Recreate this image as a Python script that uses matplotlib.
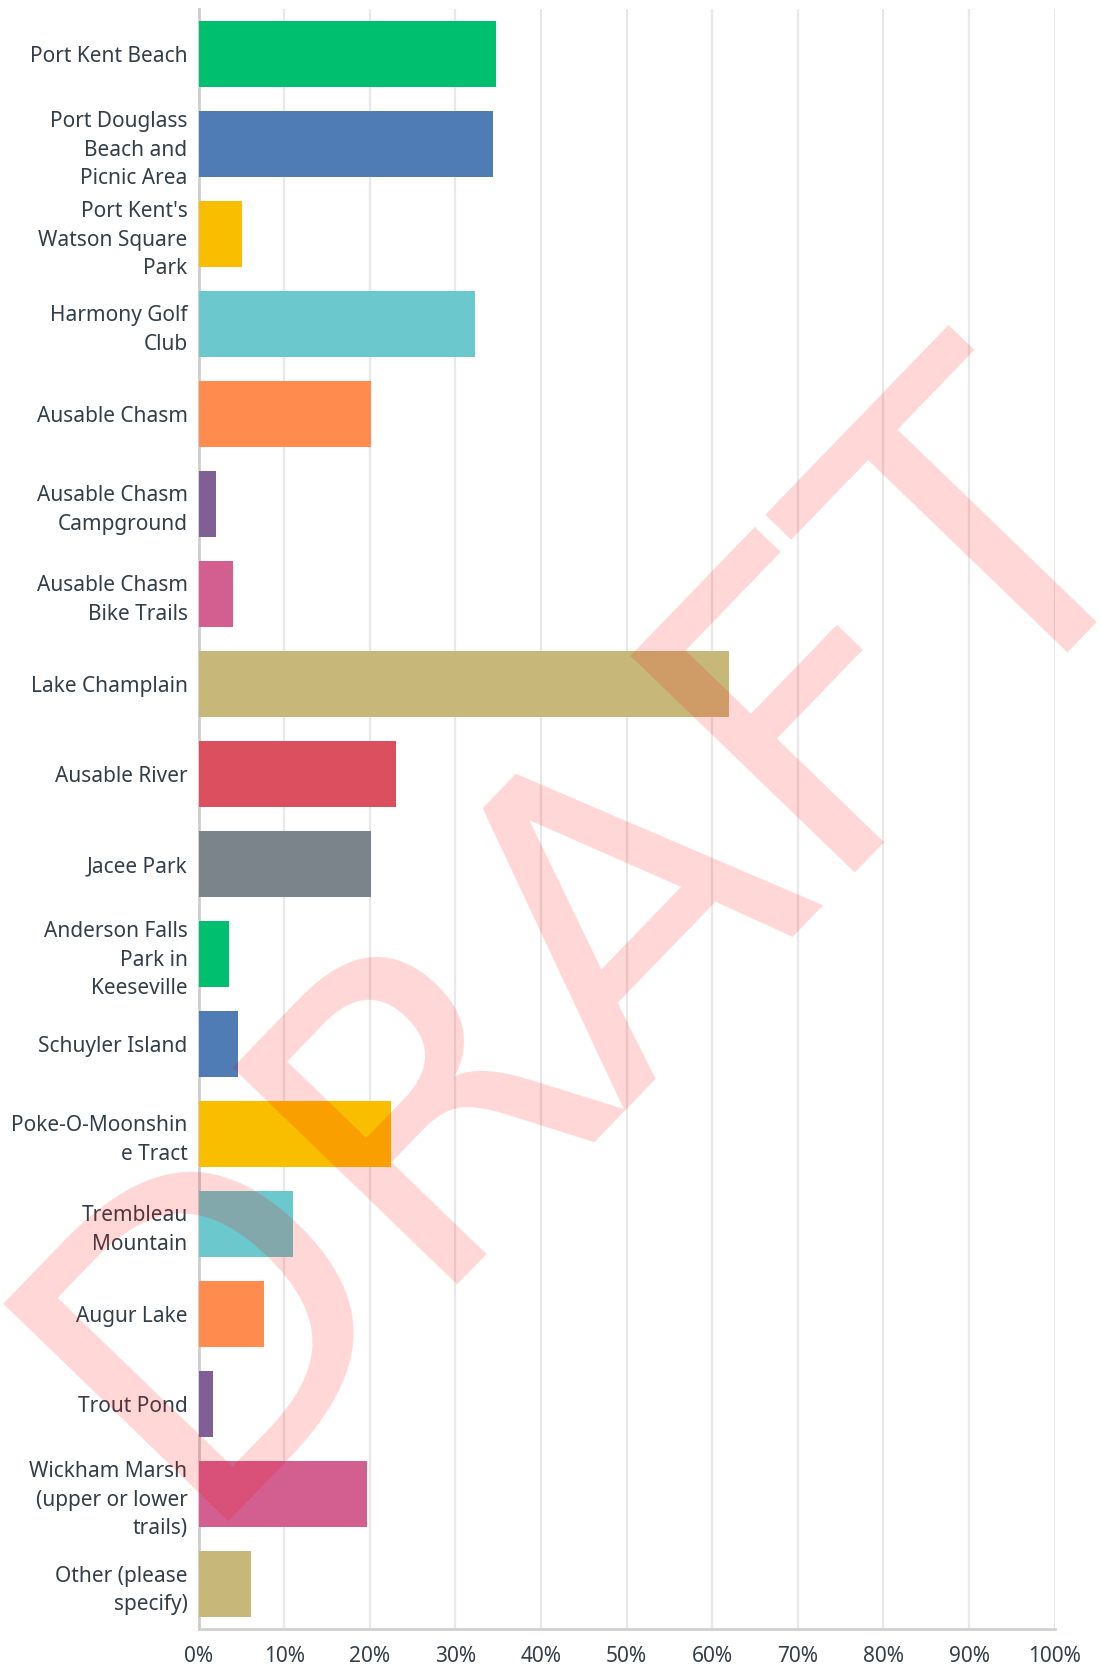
import matplotlib
matplotlib.use("Agg")
import matplotlib.pyplot as plt
from matplotlib.ticker import FuncFormatter

# answer choices and share of respondents (%)
labels = [
    "Port Kent Beach",
    "Port Douglass\nBeach and\nPicnic Area",
    "Port Kent's\nWatson Square\nPark",
    "Harmony Golf\nClub",
    "Ausable Chasm",
    "Ausable Chasm\nCampground",
    "Ausable Chasm\nBike Trails",
    "Lake Champlain",
    "Ausable River",
    "Jacee Park",
    "Anderson Falls\nPark in\nKeeseville",
    "Schuyler Island",
    "Poke-O-Moonshin\ne Tract",
    "Trembleau\nMountain",
    "Augur Lake",
    "Trout Pond",
    "Wickham Marsh\n(upper or lower\ntrails)",
    "Other (please\nspecify)",
]
values = [34.7, 34.4, 5.1, 32.3, 20.1, 2.0, 4.0, 62.0, 23.0, 20.1,
          3.5, 4.6, 22.5, 11.0, 7.6, 1.7, 19.7, 6.1]

palette = ["#00bf6f", "#507cb6", "#f9be00", "#6bc8cd", "#ff8b4f",
           "#7f5f96", "#d25f90", "#c7b879", "#dc4f5e", "#7b838b"]
colors = [palette[i % len(palette)] for i in range(len(values))]

TEXT = "#333e48"
plt.rcParams["font.family"] = ["Noto Sans", "DejaVu Sans"]

fig = plt.figure(figsize=(11.02, 16.72), dpi=100)
ax = fig.add_axes([0.1803, 0.0257, 0.7767, 0.969])

y = range(len(values))
ax.barh(y, values, height=0.733, color=colors, zorder=3)
ax.set_ylim(len(values) - 0.5, -0.5)
ax.set_xlim(0, 100)

ax.set_yticks(list(y))
ax.set_yticklabels(labels, fontsize=15, color=TEXT, linespacing=1.46)
ax.set_xticks(range(0, 101, 10))
ax.xaxis.set_major_formatter(FuncFormatter(lambda v, _: f"{v:.0f}%"))
ax.tick_params(axis="x", labelsize=15, labelcolor=TEXT, length=0, pad=12)
ax.tick_params(axis="y", length=0, pad=8)

ax.grid(axis="x", color="#e8e8e8", linewidth=1.6, zorder=0)
for side in ("top", "right"):
    ax.spines[side].set_visible(False)
ax.spines["left"].set_color("#cccccc")
ax.spines["left"].set_linewidth(2)
ax.spines["bottom"].set_color("#d0d0d0")
ax.spines["bottom"].set_linewidth(2)

# watermark
fig.text(0.534, 0.441, "DRAFT", fontsize=308, color="red", alpha=0.16,
         rotation=46, ha="center", va="center", zorder=10,
         family="DejaVu Sans")

fig.savefig("out.png", dpi=100)
